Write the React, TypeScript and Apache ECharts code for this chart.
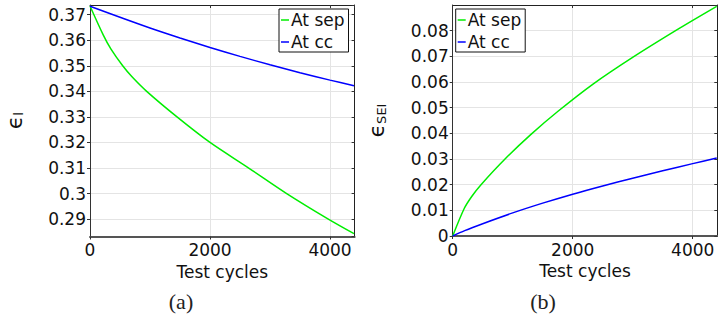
import React, { useEffect, useRef } from "react";
import * as echarts from "echarts";

// Liquid volume fraction (epsilon_l) versus test cycles
const sepLiquidCycles = [0, 222, 350, 545, 700, 945, 1450, 2000, 2639, 3278, 3972, 4400];
const sepLiquid = [0.3734, 0.362, 0.3565, 0.35, 0.3457, 0.34, 0.33, 0.32, 0.3101, 0.3, 0.29, 0.2843];
const ccLiquidCycles = [0, 500, 1000, 1500, 2000, 2500, 3000, 3500, 4000, 4400];
const ccLiquid = [0.3733, 0.369, 0.3648, 0.3609, 0.3572, 0.3537, 0.3504, 0.3473, 0.3444, 0.3422];

// SEI volume fraction (epsilon_SEI) versus test cycles
const sepSeiCycles = [0, 194, 320, 472, 872, 1300, 1750, 2339, 3005, 3783, 4400];
const sepSei = [0, 0.0108, 0.0155, 0.02, 0.03, 0.0395, 0.0485, 0.0592, 0.0697, 0.081, 0.0895];
const ccSeiCycles = [0, 200, 500, 1000, 1500, 2000, 2500, 3000, 3500, 4000, 4400];
const ccSei = [0, 0.0021, 0.0048, 0.009, 0.0128, 0.0163, 0.0195, 0.0225, 0.0254, 0.0282, 0.0304];

const seriesNames = ["At sep", "At cc"];
const xTitle = "Test cycles";
const captions = ["(a)", "(b)"];

const GREEN = "#00ee00";
const BLUE = "#0000ff";
const FONT = "DejaVu Sans";
const X_MAX = 4410;

const pairs = (xs: number[], ys: number[]) => xs.map((x, i) => [x, ys[i]]);
const fmt = (v: number) => String(+v.toFixed(4));

function mainX(gridIndex: number) {
  return {
    gridIndex,
    type: "value",
    position: "bottom",
    min: 0,
    max: X_MAX,
    interval: 2000,
    axisLine: { show: true, onZero: false, lineStyle: { color: "#555", width: 2 } },
    axisTick: { show: true, inside: false, length: 3, lineStyle: { color: "#333" } },
    axisLabel: {
      show: true,
      margin: 5,
      fontSize: 17,
      fontFamily: FONT,
      color: "#111",
      showMaxLabel: false,
      formatter: fmt,
    },
    splitLine: { show: true, lineStyle: { color: "#e4e4e4", width: 1 } },
    name: xTitle,
    nameLocation: "middle",
    nameGap: 18,
    nameTextStyle: { fontSize: 17, fontFamily: FONT, color: "#111" },
  };
}

function mirrorX(gridIndex: number) {
  return {
    gridIndex,
    type: "value",
    position: "top",
    min: 0,
    max: X_MAX,
    interval: 2000,
    axisLine: { show: true, onZero: false, lineStyle: { color: "#222", width: 1 } },
    axisTick: { show: true, inside: true, length: 3, lineStyle: { color: "#333" } },
    axisLabel: { show: false },
    splitLine: { show: false },
  };
}

function mainY(gridIndex: number, range: any, name: string, rich: any) {
  return {
    gridIndex,
    type: "value",
    position: "left",
    ...range,
    axisLine: { show: true, onZero: false, lineStyle: { color: "#333", width: 1 } },
    axisTick: { show: true, inside: false, length: 3, lineStyle: { color: "#333" } },
    axisLabel: {
      show: true,
      margin: 4,
      fontSize: 17,
      fontFamily: FONT,
      color: "#111",
      showMinLabel: range.hideMin ? false : true,
      showMaxLabel: false,
      formatter: fmt,
    },
    splitLine: { show: true, lineStyle: { color: "#e4e4e4", width: 1 } },
    name,
    nameLocation: "middle",
    nameRotate: 90,
    nameGap: 65,
    nameTextStyle: { color: "#111", fontFamily: FONT, rich },
  };
}

function mirrorY(gridIndex: number, range: any) {
  return {
    gridIndex,
    type: "value",
    position: "right",
    ...range,
    axisLine: { show: true, onZero: false, lineStyle: { color: "#222", width: 1 } },
    axisTick: { show: true, inside: true, length: 3, lineStyle: { color: "#333" } },
    axisLabel: { show: false },
    splitLine: { show: false },
  };
}

function legendAt(left: number, top: number) {
  return {
    left,
    top,
    orient: "vertical",
    data: seriesNames.map((name) => ({ name, icon: "rect" })),
    itemWidth: 8,
    itemHeight: 1.5,
    itemGap: 2,
    padding: [1, 4, 0, 2],
    backgroundColor: "#fff",
    borderColor: "#111",
    borderWidth: 1,
    borderRadius: 0,
    selectedMode: false,
    textStyle: { fontSize: 17, fontFamily: FONT, color: "#111", lineHeight: 20, padding: [0, 0, 0, -3] },
  };
}

function curve(name: string, color: string, axis: number, data: number[][]) {
  return {
    name,
    type: "line",
    xAxisIndex: axis,
    yAxisIndex: axis,
    data,
    showSymbol: false,
    symbol: "none",
    smooth: 0.3,
    lineStyle: { color, width: 1.5 },
    itemStyle: { color },
    z: 3,
  };
}

const subRich = {
  e: { fontSize: 22, fontFamily: FONT, color: "#111" },
  s: { fontSize: 13, fontFamily: FONT, color: "#111", verticalAlign: "bottom", padding: [8, 0, 0, 0] },
};

export default function App() {
  const ref = useRef<HTMLDivElement>(null);

  useEffect(() => {
    document.body.style.margin = "0";
    if (!ref.current) return;
    const chart = echarts.init(ref.current, null, { renderer: "svg" });

    const liquidRange = { min: 0.2832, max: 0.3738, splitNumber: 9, hideMin: true };
    const seiRange = { min: 0, max: 0.09, interval: 0.01 };

    const caption = (text: string, x: number) => ({
      type: "text",
      x,
      y: 301,
      style: {
        text,
        fontSize: 22,
        fontFamily: "Liberation Serif",
        fill: "#222",
        textAlign: "center",
        textVerticalAlign: "middle",
      },
    });

    chart.setOption({
      animation: false,
      backgroundColor: "#fff",
      grid: [
        { left: 90, top: 5, width: 264.6, height: 231.5, show: false },
        { left: 452.7, top: 5, width: 264.6, height: 231, show: false },
      ],
      xAxis: [mainX(0), mirrorX(0), mainX(1), mirrorX(1)],
      yAxis: [
        mainY(0, liquidRange, "{e|ϵ}{s|l}", subRich),
        mirrorY(0, liquidRange),
        mainY(1, seiRange, "{e|ϵ}{s|SEI}", subRich),
        mirrorY(1, seiRange),
      ],
      legend: [legendAt(279, 9), legendAt(455.7, 9)],
      series: [
        curve(seriesNames[0], GREEN, 0, pairs(sepLiquidCycles, sepLiquid)),
        curve(seriesNames[1], BLUE, 0, pairs(ccLiquidCycles, ccLiquid)),
        curve(seriesNames[0], GREEN, 2, pairs(sepSeiCycles, sepSei)),
        curve(seriesNames[1], BLUE, 2, pairs(ccSeiCycles, ccSei)),
      ],
      graphic: [caption(captions[0], 181), caption(captions[1], 543)],
    });

    return () => chart.dispose();
  }, []);

  return <div ref={ref} style={{ width: 718, height: 323 }} />;
}
